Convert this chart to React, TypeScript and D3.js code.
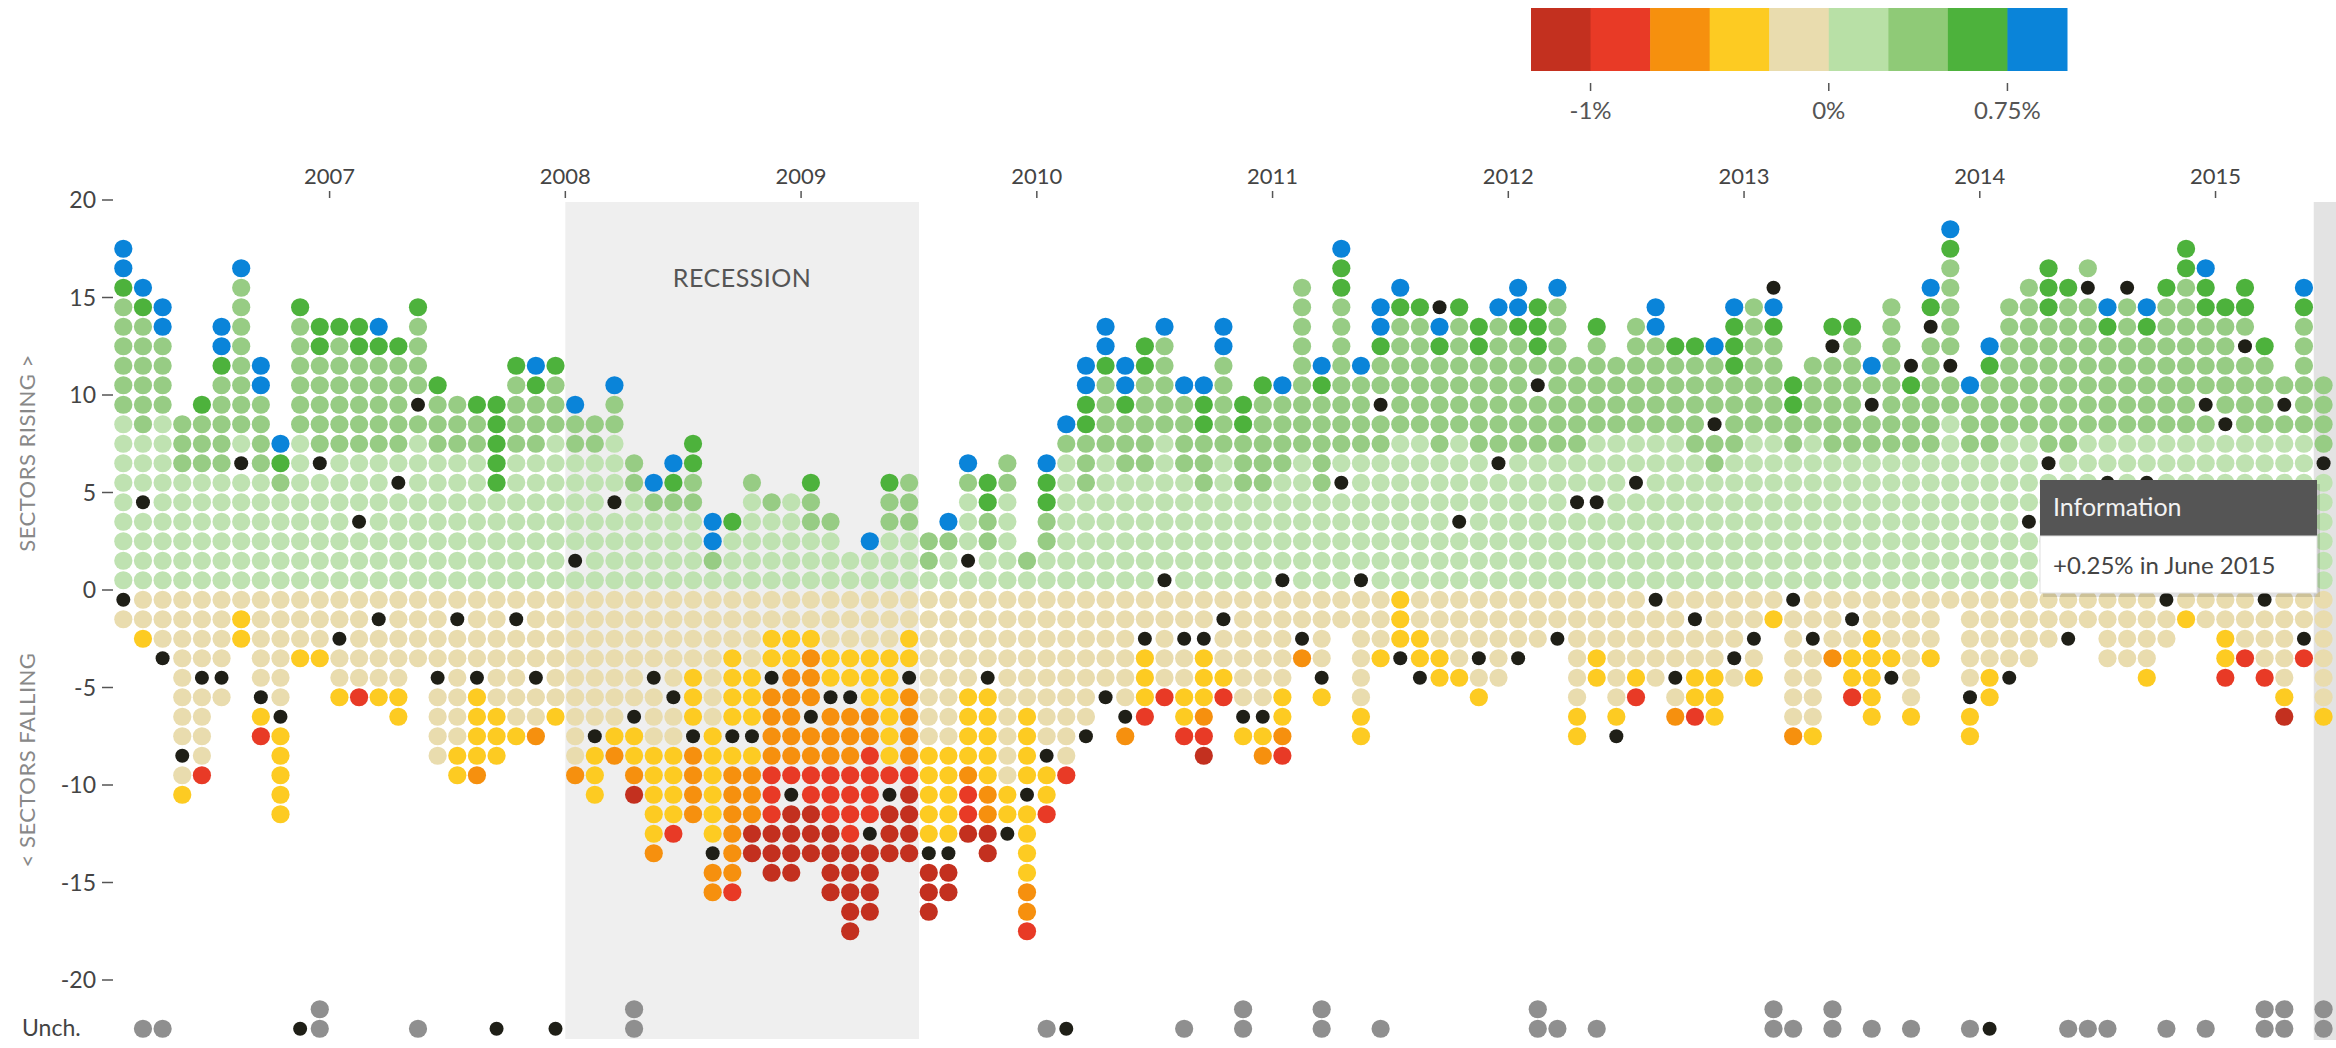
import React from "react";
import * as d3 from "d3";

// ---------- categories ----------
const firstMonth = new Date(2006, 1, 1);
const lastMonth = new Date(2015, 5, 1);
const months = d3.timeMonth.range(firstMonth, d3.timeMonth.offset(lastMonth, 1));
const monthKey = d3.timeFormat("%Y-%m");
const monthKeys = months.map(monthKey);

const yTicks = [20, 15, 10, 5, 0, -5, -10, -15, -20];
const yearTicks = [2007, 2008, 2009, 2010, 2011, 2012, 2013, 2014, 2015];
const recession = ["2008-01", "2009-06"];
const selectedMonth = "2015-06";

// legend: colour classes of monthly change
const legendClasses = ["d", "r", "o", "y", "e", "L", "M", "G", "B"];
const legendLabels = [
  { label: "-1%", after: 0 },
  { label: "0%", after: 4 },
  { label: "0.75%", after: 7 },
];

// ---------- data (run-length codes: class letter + count) ----------
// rising: from 0 upward. L <0.25%, M <0.5%, G <0.75%, B >0.75%, k = tracked sector
const rising = [
  "L9M6G1B2", "L4k1L3M6G1B1", "L9M4B2", "L6M3", "L6M3G1", "L6M5G1B2", "L6k1L1M8B1", "L6M4B2", "L5M1G1B1", "L8M6G1",
  "L6k1M5G2", "L7M6G1", "L3k1L3M5G2", "L7M5G1B1", "L5k1L1M5G1", "L8M1k1M4G1", "L7M3G1", "L7M3", "L7M2G1", "L5G5",
  "L7M4G1", "L7M3G1B1", "L8M3G1", "L1k1L5M2B1", "L7M2", "L4k1L3M2B1", "L5M2", "L4M1B1", "L4M1G1B1", "L4M2G2",
  "L1M1B2", "L3G1", "L5M1", "L4M1", "L5", "L3M2G1", "L3M1", "L2", "L2B1", "L3M2G1",
  "L3M3", "L1M2", "L2M1B1", "L1k1L3M1B1", "L2M2G2", "L5M2", "L1M1", "L2M2G2B1", "L7M1B1", "L5M3G2B2",
  "L7M4G1B2", "L6M3G1B2", "L6M5G2", "k1L7M5B1", "L6M4B1", "L5M3G2B1", "L7M5B2", "L5M3G2", "L5M5G1", "k1L5M4B1",
  "L7M9", "L5M5G1B1", "L5k1L1M8G2B1", "k1L6M4B1", "L7M2k1M2G1B2", "L8M6G1B1", "L8M6G1", "L7M5G1B1k1", "L3k1L4M6G1", "L7M5G2",
  "L6k1M7B1", "L7M6G1B2", "L7M3k1M1G3", "L7M8B1", "L4k1L2M5", "L4k1L3M5G1", "L8M4", "L5k1L2M6", "L8M5B2", "L8M4G1",
  "L7M5G1", "L6M2k1M3B1", "L7M4G3B1", "L8M7", "L8M5G1B1k1", "L7M2G2", "L8M4", "L7M5k1G1", "L7M6G1", "L7M2k1M1B1",
  "L7M8", "L7M3G1k1", "L7M6k1G1B1", "L9M2k1M5G1B1", "L7M3B1", "L7M4G1B1", "L8M7", "L3k1L4M8", "L6k1M7G3", "L7M8G1",
  "L8M7k1M1", "L5k1L2M5G1B1", "L8M7k1", "L5k1L2M5G1B1", "L8M7G1", "L8M8G2", "L8M1k1M4G2B1", "L8k1M5G1", "L8M4k1M1G2", "L8M4G1",
  "L8M1k1M1", "L8M6G1B1", "L6k1M4",
];

// falling: from 0 downward. e >-0.25%, y >-0.5%, o >-0.75%, r >-1%, d <-1%
const falling = [
  "k1e1", "e2y1", "e3k1", "e8k1e1y1", "e4k1e4r1", "e4k1e1", "e1y2", "e5k1y1r1", "e6k1y5", "e3y1",
  "e3y1", "e2k1e2y1", "e5r1", "e1k1e3y1", "e5y2", "e4", "e4k1e4", "e1k1e6y2", "e4k1y4o1", "e6y3",
  "e1k1e5y1", "e4k1e2o1", "e6y1", "e9o1", "e7k1y3", "e7y1o1", "e6k1y2o1d1", "e4k1e3y5o1", "e5k1e2y4r1", "e4y3k1o4",
  "e7y6k1o2", "e3y4k1y1o6r1", "e4y3k1y1o3d2", "e2y2k1o4r3d3", "e2y2o5r1k1d4", "e2y1o3k1o2r2d3", "e3y2k1o3r3d4", "e3y2k1o3r4d5", "e3y3o2r4k1d4", "e3y6r1k1d3",
  "e2y2k1o4r1d4", "e8y5k1d3", "e8y5k1d2", "e5y4o1r2d1", "e4k1y5o2d2", "e10y2k1", "e6y4k1y4o2r1", "e8k1y2r1", "e9r1", "e7k1",
  "e5k1", "e6k1o1", "e2k1y3r1", "e5r1", "e2k1e2y2r1", "e2k1y3o1r1d1", "e1k1e2y1r1", "e6k1y1", "e6k1y1o1", "e5y2o1r1",
  "e2k1o1", "e4k1y1", "e2", "e6y2", "e3y1", "y3k1", "e2y2k1", "e3y2", "e4y1", "e3k1e1y1",
  "e5", "e3k1", "e3", "e2k1", "e6y2", "e3y2", "e6y1k1", "e4y1r1", "k1e4", "e4k1e1o1",
  "e1k1e2y2r1", "e4y3", "e3k1e1", "e2k1e1y1", "e1y1", "k1e6o1", "e2k1e4y1", "e3o1", "e1k1e1y2r1", "e2y5",
  "e3y1k1", "e6y1", "e3y1", "e1", "e5k1y2", "e4y2", "e4k1", "e4", "e3", "e2k1",
  "e2", "e4", "e4", "e4y1", "k1e2", "e1y1", "e2", "e2y2r1", "e3r1", "k1e3r1",
  "e5y1d1", "e2k1r1", "e6y1",
];

// unchanged sectors (u = gray, k = tracked sector)
const unchanged = [
  "", "u1", "u1", "", "", "", "", "", "", "k1",
  "u2", "", "", "", "", "u1", "", "", "", "k1",
  "", "", "k1", "", "", "", "u2", "", "", "",
  "", "", "", "", "", "", "", "", "", "",
  "", "", "", "", "", "", "", "u1", "k1", "",
  "", "", "", "", "u1", "", "", "u2", "", "",
  "", "u2", "", "", "u1", "", "", "", "", "",
  "", "", "u2", "u1", "", "u1", "", "", "", "",
  "", "", "", "", "u2", "u1", "", "u2", "", "u1",
  "", "u1", "", "", "u1", "k1", "", "", "", "u1",
  "u1", "u1", "", "", "u1", "", "u1", "", "", "u2",
  "u2", "", "u2",
];

const tooltipTitle = "Information";
const tooltipText = "+0.25% in June 2015";

// ---------- styles ----------
const palette: Record<string, string> = {
  d: "#c3301f",
  r: "#e83a26",
  o: "#f6900e",
  y: "#fdcb22",
  e: "#e9dcae",
  L: "#bfe2b1",
  M: "#97cc84",
  G: "#4db23c",
  B: "#0a84d9",
  k: "#1f1f17",
  u: "#8f8f8f",
};
const legendPalette: Record<string, string> = { ...palette, L: "#b8e0a6", M: "#8fca77" };
const FONT = "Lato, 'Open Sans', sans-serif";

function decode(code: string): string[] {
  const out: string[] = [];
  const re = /([A-Za-z])(\d+)/g;
  let m: RegExpExecArray | null;
  while ((m = re.exec(code)) !== null) {
    const n = +m[2];
    for (let i = 0; i < n; i++) out.push(m[1]);
  }
  return out;
}

export default function App() {
  const W = 2336;
  const H = 1048;
  const x = d3.scaleBand<string>().domain(monthKeys).range([113.5, 2333.4]).padding(0);
  const y = d3.scaleLinear().domain([-20, 20]).range([980, 200]);
  const bw = x.bandwidth();
  const R = 9.1;
  const RK = 7;

  const dots: { cx: number; cy: number; c: string; key: string }[] = [];
  monthKeys.forEach((mk, i) => {
    const cx = (x(mk) as number) + bw / 2;
    decode(rising[i] || "").forEach((c, k) => dots.push({ cx, cy: y(k + 0.5), c, key: `r${i}-${k}` }));
    decode(falling[i] || "").forEach((c, k) => dots.push({ cx, cy: y(-(k + 0.5)), c, key: `f${i}-${k}` }));
    decode(unchanged[i] || "").forEach((c, k) => dots.push({ cx, cy: y(-22.5 + k), c, key: `u${i}-${k}` }));
  });

  const recX0 = x(recession[0]) as number;
  const recX1 = (x(recession[1]) as number) + bw;
  const selX = x(selectedMonth) as number;

  const legX = d3.scaleBand<string>().domain(legendClasses).range([1531, 2067]);

  const tipX = 2040, tipY = 480, tipW = 277, tipHead = 56, tipBody = 57;

  return (
    <svg width={W} height={H} style={{ position: "absolute", left: 0, top: 0, background: "#fff" }} fontFamily={FONT}>
      {/* recession band */}
      <rect x={recX0} y={202} width={recX1 - recX0} height={1039 - 202} fill="#efefef" />
      <text x={(recX0 + recX1) / 2} y={287} textAnchor="middle" fontSize={25} fill="#555" letterSpacing={0.5}>
        RECESSION
      </text>
      {/* selected month band */}
      <rect x={selX} y={202} width={W - selX} height={1040 - 202} fill="#e3e3e3" />

      {/* legend */}
      {legendClasses.map((c) => (
        <rect key={c} x={legX(c)} y={8} width={legX.bandwidth() + 0.5} height={63} fill={legendPalette[c]} />
      ))}
      {legendLabels.map((l) => {
        const lx = (legX(legendClasses[l.after]) as number) + legX.bandwidth();
        return (
          <g key={l.label}>
            <line x1={lx} x2={lx} y1={83} y2={91} stroke="#555" strokeWidth={1.5} />
            <text x={lx} y={119} textAnchor="middle" fontSize={24} fill="#555">
              {l.label}
            </text>
          </g>
        );
      })}

      {/* year axis */}
      {yearTicks.map((yr) => {
        const tx = x(`${yr}-01`) as number;
        return (
          <g key={yr}>
            <text x={tx} y={184} textAnchor="middle" fontSize={22} fill="#444">
              {yr}
            </text>
            <line x1={tx} x2={tx} y1={191} y2={198} stroke="#555" strokeWidth={1.5} />
          </g>
        );
      })}

      {/* y axis */}
      {yTicks.map((t) => (
        <g key={t}>
          <text x={96} y={y(t) + 8} textAnchor="end" fontSize={23} fill="#444">
            {t}
          </text>
          <line x1={102} x2={113} y1={y(t)} y2={y(t)} stroke="#555" strokeWidth={1.5} />
        </g>
      ))}
      <text x={22} y={1036} fontSize={23} fill="#444">
        Unch.
      </text>
      <text transform={`translate(35,453) rotate(-90)`} textAnchor="middle" fontSize={22} fill="#888" letterSpacing={0.5}>
        SECTORS RISING &gt;
      </text>
      <text transform={`translate(35,760) rotate(-90)`} textAnchor="middle" fontSize={22} fill="#888" letterSpacing={0.5}>
        &lt; SECTORS FALLING
      </text>

      {/* dots */}
      {dots.map((d) => (
        <circle key={d.key} cx={d.cx} cy={d.cy} r={d.c === "k" ? RK : R} fill={palette[d.c]} />
      ))}

      {/* tooltip */}
      <rect x={tipX + 3} y={tipY + 4} width={tipW} height={tipHead + tipBody} fill="#000" opacity={0.12} />
      <rect x={tipX} y={tipY} width={tipW} height={tipHead} fill="#555" />
      <rect x={tipX} y={tipY + tipHead} width={tipW} height={tipBody} fill="#fff" stroke="#e0e0e0" />
      <text x={tipX + 13} y={tipY + 36} fontSize={25} fill="#f2f2f2">
        {tooltipTitle}
      </text>
      <text x={tipX + 13} y={tipY + tipHead + 38} fontSize={24} fill="#444">
        {tooltipText}
      </text>
    </svg>
  );
}
